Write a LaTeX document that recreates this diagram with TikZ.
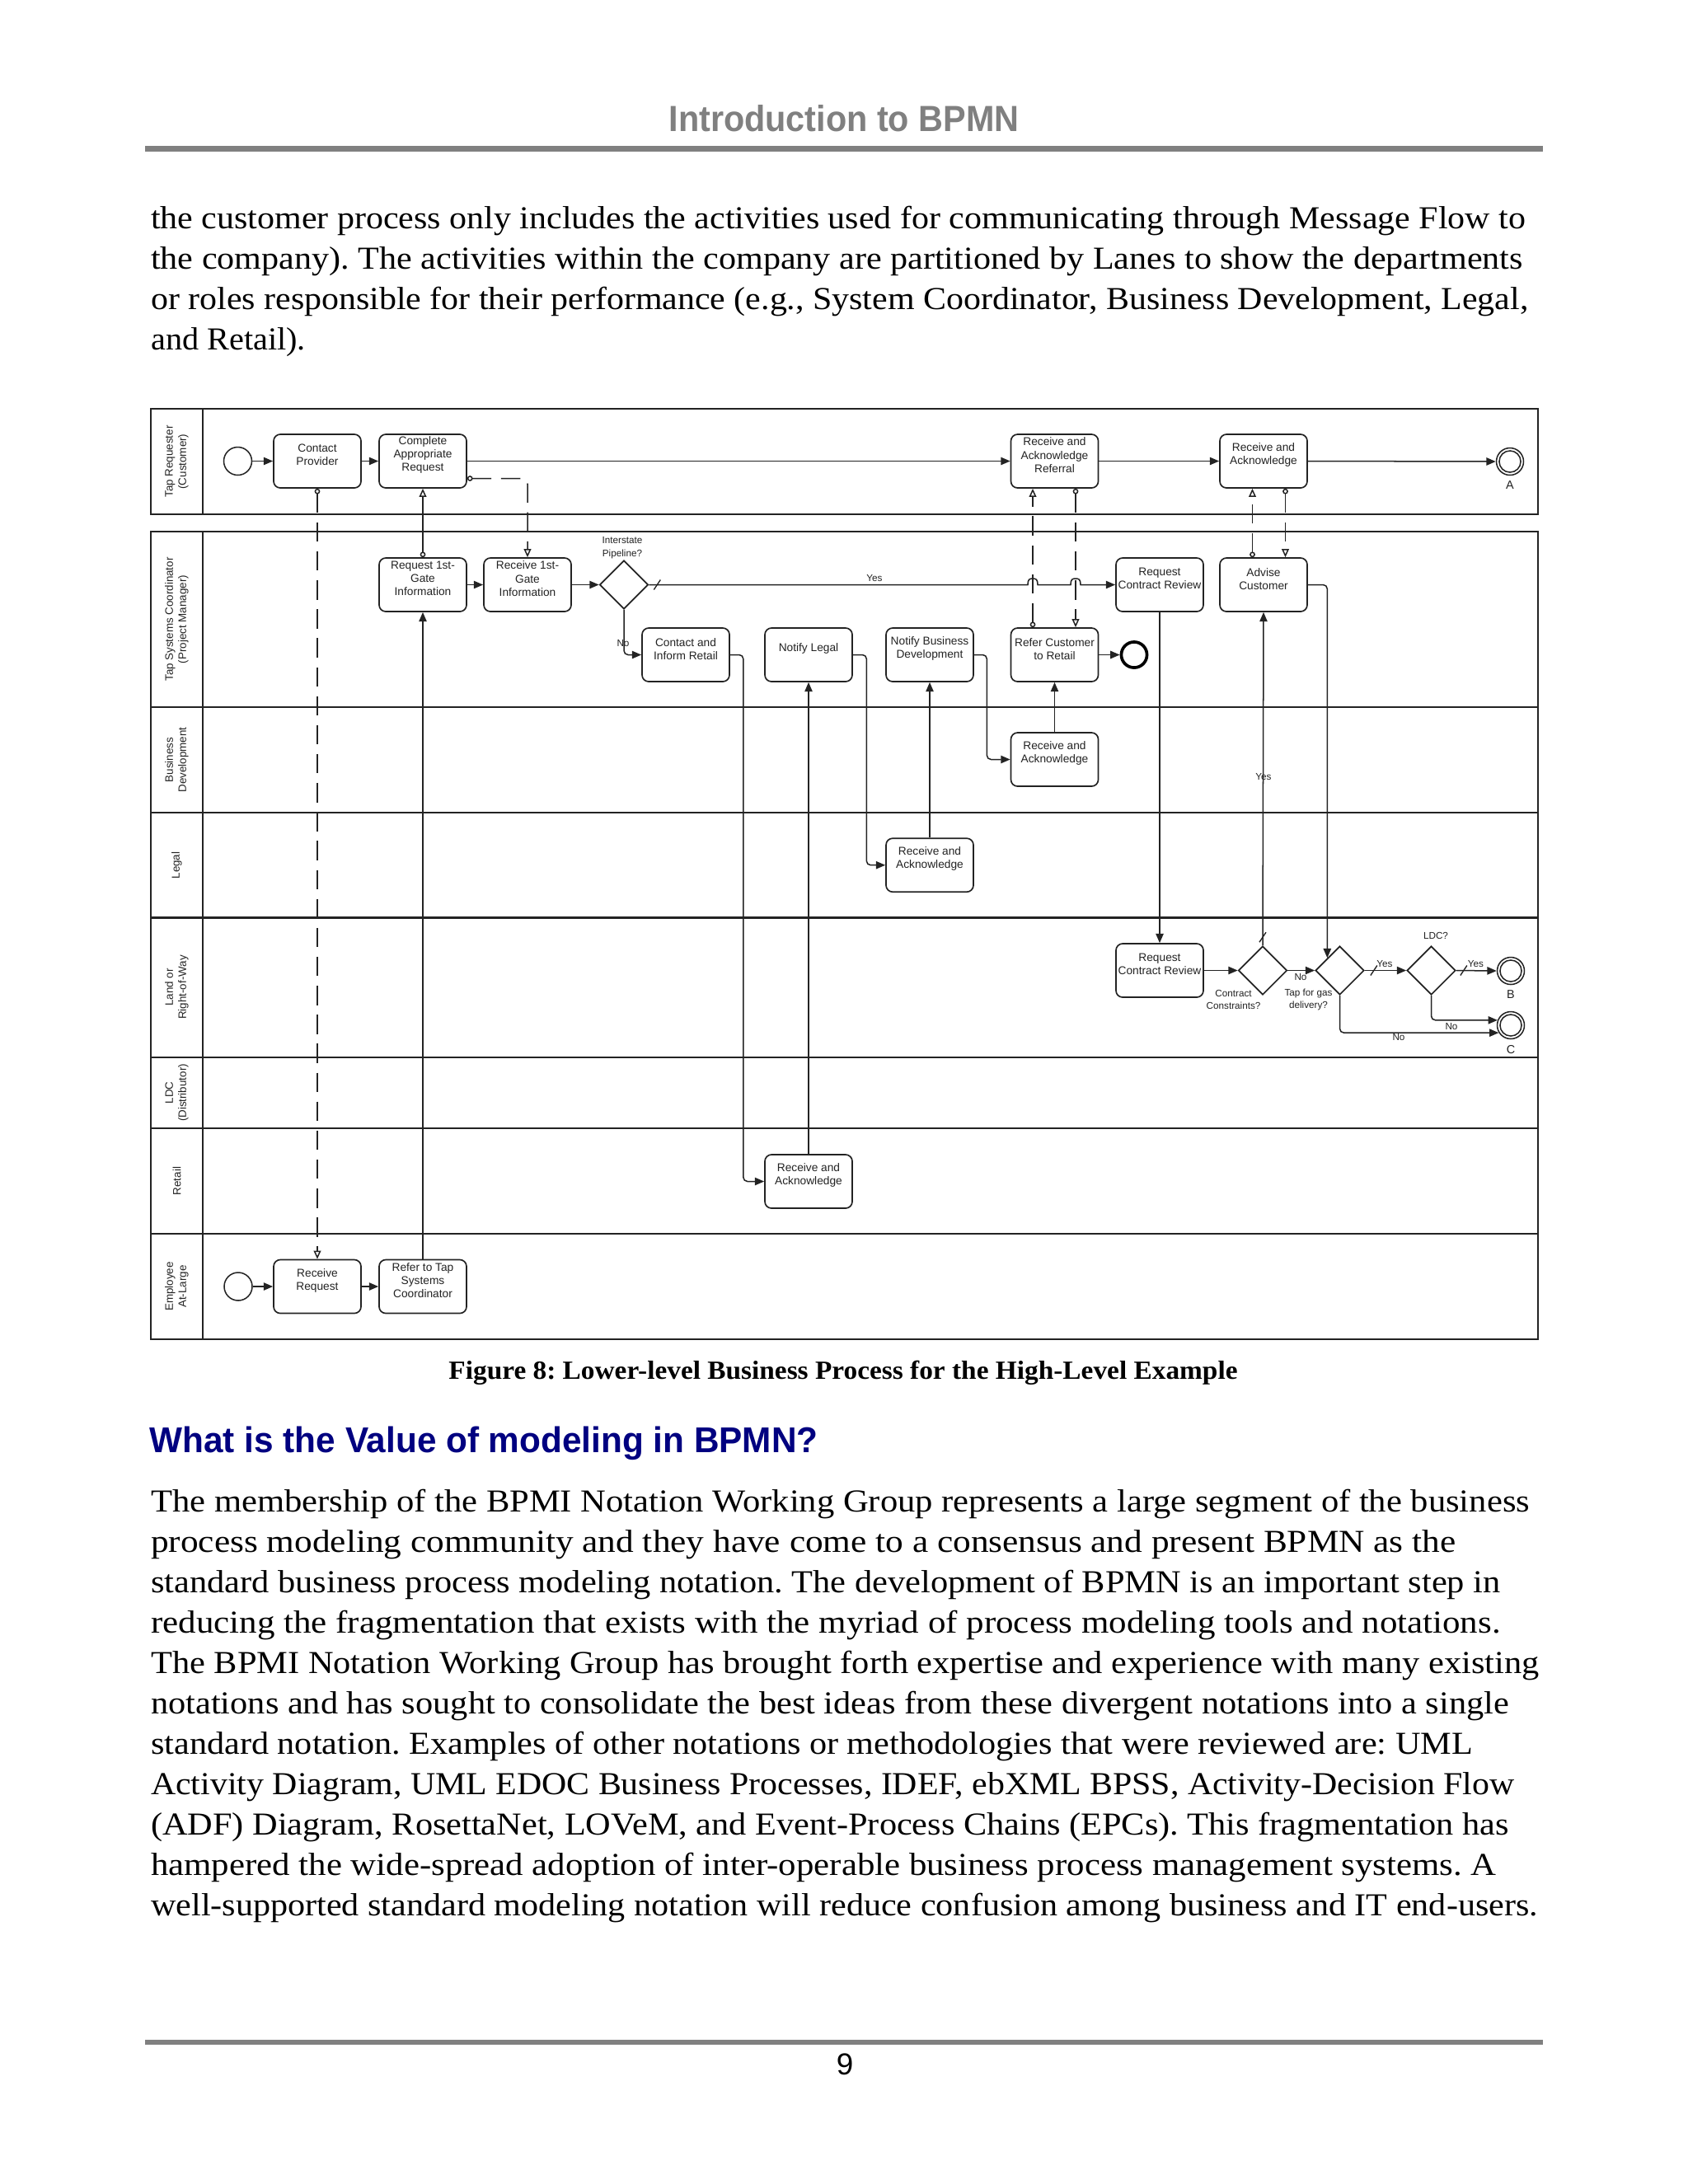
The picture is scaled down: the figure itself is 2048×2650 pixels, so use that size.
\documentclass[tikz,border=0pt]{standalone}
\usepackage{fontspec}
\usepackage{graphicx}
\setmainfont{Liberation Serif}
\newfontfamily\dsans{Liberation Sans}
\usetikzlibrary{arrows.meta,shapes.geometric,calc}
\definecolor{hdrgray}{RGB}{128,128,128}
\definecolor{navyhead}{RGB}{0,0,128}
\definecolor{ink}{RGB}{35,35,35}
\frenchspacing
\newcommand{\bodyfnt}{\fontsize{11.6}{14}\selectfont}
\newcommand{\txtline}[4]{\node[anchor=base west,inner sep=0pt] (#1) at (182.5,#2) {\resizebox{#3pt}{\height}{\bodyfnt #4}};}
\newcommand{\taskbox}[4]{\node[task] (#1) at (#2,#3) {}; \node[ttext] (#1-t) at ([yshift=2.2pt]#1.center) {#4};}
\newcommand{\dflow}[1]{\draw[ink,line width=0.4pt] ($(#1)+(-4,6)$) -- ($(#1)+(4,-6)$);}
\begin{document}
\begin{tikzpicture}[x=0.298828pt,y=-0.298828pt,
  task/.style={draw=ink,line width=0.5pt,rounded corners=2.4pt,minimum width=31.68pt,minimum height=19.42pt,inner sep=0pt},
  ttext/.style={font=\dsans\fontsize{4.1}{4.8}\selectfont,align=center,inner sep=0pt,text=ink},
  gw/.style={draw=ink,line width=0.5pt,diamond,aspect=1,minimum width=17.63pt,minimum height=17.63pt,inner sep=0pt},
  seq/.style={draw=ink,line width=0.45pt,-{Triangle[length=3.4pt,width=2.8pt]},rounded corners=1.5pt},
  msg/.style={draw=ink,line width=0.45pt,dash pattern=on 7pt off 3.5pt,{Circle[open,length=2pt,width=2pt]}-{Triangle[open,length=3pt,width=2.6pt]}},
  lbl/.style={font=\dsans\fontsize{3.5}{4.3}\selectfont,text=ink,inner sep=0pt,align=center},
  lanelbl/.style={font=\dsans\fontsize{4}{4.8}\selectfont,text=ink,inner sep=0pt,align=center,rotate=90},
  pool/.style={draw=ink,line width=0.7pt},
  startev/.style={circle,draw=ink,line width=0.45pt,minimum size=10.16pt,inner sep=0pt},
  endlink/.style={circle,draw=ink,line width=0.45pt,minimum size=9.86pt,inner sep=0pt},
  endthick/.style={circle,draw=black,line width=1.1pt,minimum size=9.3pt,inner sep=0pt},
  letter/.style={font=\dsans\fontsize{4.3}{5}\selectfont,text=ink,inner sep=0pt}
]
\useasboundingbox (0,0) rectangle (2048,2650);
\fill[white] (0,0) rectangle (2048,2650);

% ---------- page header ----------
\node[anchor=base,inner sep=0pt] (hdr) at (1024,159) {\resizebox{127pt}{\height}{\dsans\bfseries\fontsize{13.2}{15}\selectfont\color{hdrgray}Introduction to BPMN}};
\fill[hdrgray] (176,177) rectangle (1872,184);

% ---------- first paragraph ----------
\txtline{p1a}{277}{498.4}{the customer process only includes the activities used for communicating through Message Flow to}
\txtline{p1b}{326}{497.4}{the company). The activities within the company are partitioned by Lanes to show the departments}
\txtline{p1c}{375}{499.4}{or roles responsible for their performance (e.g., System Coordinator, Business Development, Legal,}
\txtline{p1d}{424}{56.1}{and Retail).}

% ---------- pools and lanes ----------
\draw[pool] (183,496) rectangle (1866,624);
\draw[pool] (246,496) -- (246,624);
\draw[pool] (183,645) rectangle (1866,1625);
\draw[pool] (246,645) -- (246,1625);
\foreach \yy in {858,986,1113.5,1283,1369,1497} \draw[pool] (183,\yy) -- (1866,\yy);

\node[lanelbl] (ln1) at (214.5,560) {Tap Requester\\(Customer)};
\node[lanelbl] (ln2) at (214.5,751.5) {Tap Systems Coordinator\\(Project Manager)};
\node[lanelbl] (ln3) at (214.5,922) {Business\\Development};
\node[lanelbl] (ln4) at (214.5,1050) {Legal};
\node[lanelbl] (ln5) at (214.5,1198) {Land or\\Right-of-Way};
\node[lanelbl] (ln6) at (214.5,1326) {LDC\\(Distributor)};
\node[lanelbl] (ln7) at (214.5,1433) {Retail};
\node[lanelbl] (ln8) at (214.5,1561) {Employee\\At-Large};

% ---------- customer pool ----------
\node[startev] (start1) at (288.5,559.5) {};
\taskbox{cp}{385}{559.5}{Contact\\Provider}
\taskbox{car}{513}{559.5}{Complete\\Appropriate\\Request}
\taskbox{rar}{1279.5}{559.5}{Receive and\\Acknowledge\\Referral}
\taskbox{ra}{1533}{559.5}{Receive and\\Acknowledge}
\node[endlink] (endA) at (1832,560) {};
\draw[ink,line width=0.45pt] (endA) circle[radius=3.9pt];
\node[letter] (lA) at (1832,589) {A};

% ---------- coordinator lane ----------
\taskbox{rfg}{513}{709.5}{Request 1st-\\Gate\\Information}
\taskbox{rcvfg}{640}{709.5}{Receive 1st-\\Gate\\Information}
\node[gw] (gw1) at (757,709.5) {};
\node[lbl,font=\dsans\fontsize{3.5}{4.7}\selectfont] (lIP) at (755,665) {Interstate\\Pipeline?};
\taskbox{cir}{832}{794.5}{Contact and\\Inform Retail}
\taskbox{nl}{981}{794.5}{Notify Legal}
\taskbox{nbd}{1128}{794.5}{Notify Business\\Development}
\taskbox{rct}{1279.5}{794.5}{Refer Customer\\to Retail}
\node[endthick] (endT) at (1376,794.5) {};
\taskbox{rcr1}{1407}{709.5}{Request\\Contract Review}
\taskbox{adv}{1533}{709.5}{Advise\\Customer}

% ---------- business development / legal ----------
\taskbox{rab}{1279.5}{921.5}{Receive and\\Acknowledge}
\taskbox{ral}{1128}{1049.7}{Receive and\\Acknowledge}

% ---------- land ----------
\taskbox{rcr2}{1407}{1177.5}{Request\\Contract Review}
\node[gw] (gwc) at (1532,1177.5) {};
\node[gw] (gwt) at (1625.5,1177.5) {};
\node[gw] (gwl) at (1736.5,1177.5) {};
\node[endlink] (endB) at (1833,1178) {};
\draw[ink,line width=0.45pt] (endB) circle[radius=3.9pt];
\node[endlink] (endC) at (1833,1244) {};
\draw[ink,line width=0.45pt] (endC) circle[radius=3.9pt];
\node[letter] (lB) at (1833,1207) {B};
\node[letter] (lC) at (1833,1274) {C};
\node[lbl] (lCC) at (1496.6,1213) {Contract\\Constraints?};
\node[lbl] (lTG) at (1587.5,1213) {Tap for gas\\delivery?};
\node[lbl] (lLDC) at (1742,1135) {LDC?};

% ---------- retail ----------
\taskbox{rar2}{981}{1433.5}{Receive and\\Acknowledge}

% ---------- employee ----------
\node[startev] (start2) at (289,1561) {};
\taskbox{rr}{385}{1561}{Receive\\Request}
\taskbox{rtt}{513}{1561}{Refer to Tap\\Systems\\Coordinator}

% ---------- sequence flows ----------
\draw[seq] (start1.east) -- (cp.west);
\draw[seq] (cp.east) -- (car.west);
\draw[seq] (car.east) -- (rar.west);
\draw[seq] (rar.east) -- (ra.west);
\draw[seq] (ra.east) -- (endA.west);

\draw[seq] (rfg.east) -- (rcvfg.west);
\draw[seq] (rcvfg.east) -- (gw1.west);
\draw[seq,sharp corners] (gw1.east) -- (1247,709.5) .. controls (1247,703) and (1249,702) .. (1253,702) .. controls (1257,702) and (1259,703) .. (1259,709.5) -- (1299,709.5) .. controls (1299,703) and (1301,702) .. (1305,702) .. controls (1309,702) and (1311,703) .. (1311,709.5) -- (rcr1.west);
\coordinate (s1) at ($(gw1.east)+(10,0)$);
\dflow{s1}
\node[lbl] (lYes1) at (1061,701.5) {Yes};
\draw[seq] (gw1.south) |- (cir.west);
\node[lbl] (lNo1) at (756,781) {No};
\draw[seq] (cir.east) -- ++(16,0) |- (rar2.west);
\draw[seq] (rar2.north) -- (nl.south);
\draw[seq] (nl.east) -- ++(16.5,0) |- (ral.west);
\draw[seq] (ral.north) -- (nbd.south);
\draw[seq] (nbd.east) -- ++(15.5,0) |- (rab.west);
\draw[seq] (rab.north) -- (rct.south);
\draw[seq] (rct.east) -- (endT.west);
\draw[seq] (rcr1.south) -- (rcr2.north);
\draw[seq] (rcr2.east) -- (gwc.west);
\draw[seq] (gwc.north) -- (adv.south);
\coordinate (s2) at ($(gwc.north)+(0,-10)$);
\dflow{s2}
\node[lbl] (lYes2) at (1533,943) {Yes};
\draw[seq] (adv.east) -| (gwt.north west);
\draw[seq] (gwc.east) -- (gwt.west);
\node[lbl] (lNo2) at (1578,1186) {No};
\draw[seq] (gwt.east) -- (gwl.west);
\coordinate (s3) at ($(gwt.east)+(11,0)$);
\dflow{s3}
\node[lbl] (lYes3) at (1680,1170) {Yes};
\draw[seq] (gwl.east) -- (endB.west);
\coordinate (s4) at ($(gwl.east)+(9,0)$);
\dflow{s4}
\node[lbl] (lYes4) at (1790.5,1170) {Yes};
\draw[seq] (gwl.south) |- (endC.159);
\node[lbl] (lNo3) at (1761,1246) {No};
\draw[seq] (gwt.south) |- (endC.212);
\node[lbl] (lNo4) at (1697,1259) {No};

\draw[seq] (start2.east) -- (rr.west);
\draw[seq] (rr.east) -- (rtt.west);
\draw[seq] (rtt.north) -- (rfg.south);

% ---------- message flows ----------
\draw[msg] (cp.south) -- (rr.north);
\draw[msg,rounded corners=2pt] ($(car.east)+(0,21)$) -| (rcvfg.north);
\draw[msg,solid] (rfg.north) -- (car.south);
\draw[msg] ($(rct.north)+(-26.5,0)$) -- ($(rar.south)+(-26.5,0)$);
\draw[msg] ($(rar.south)+(25.5,0)$) -- ($(rct.north)+(25.5,0)$);
\draw[msg] ($(adv.north)+(-13.5,0)$) -- ($(ra.south)+(-13.5,0)$);
\draw[msg] ($(ra.south)+(26.5,0)$) -- ($(adv.north)+(26.5,0)$);

% ---------- caption and heading ----------
\node[anchor=base,inner sep=0pt] (cap) at (1023,1673) {\resizebox{286pt}{\height}{\fontsize{9.5}{11}\selectfont\bfseries Figure 8: Lower-level Business Process for the High-Level Example}};
\node[anchor=base west,inner sep=0pt] (h2) at (181,1762) {\resizebox{242.3pt}{\height}{\dsans\bfseries\fontsize{13}{15}\selectfont\color{navyhead}What is the Value of modeling in BPMN?}};

% ---------- second paragraph ----------
\txtline{p2a}{1834}{499.9}{The membership of the BPMI Notation Working Group represents a large segment of the business}
\txtline{p2b}{1883}{473.1}{process modeling community and they have come to a consensus and present BPMN as the}
\txtline{p2c}{1932}{489.3}{standard business process modeling notation. The development of BPMN is an important step in}
\txtline{p2d}{1981}{489.3}{reducing the fragmentation that exists with the myriad of process modeling tools and notations.}
\txtline{p2e}{2030}{503.4}{The BPMI Notation Working Group has brought forth expertise and experience with many existing}
\txtline{p2f}{2079}{492.4}{notations and has sought to consolidate the best ideas from these divergent notations into a single}
\txtline{p2g}{2128}{479.2}{standard notation. Examples of other notations or methodologies that were reviewed are: UML}
\txtline{p2h}{2177}{494.4}{Activity Diagram, UML EDOC Business Processes, IDEF, ebXML BPSS, Activity-Decision Flow}
\txtline{p2i}{2226}{492.4}{(ADF) Diagram, RosettaNet, LOVeM, and Event-Process Chains (EPCs). This fragmentation has}
\txtline{p2j}{2275}{487.8}{hampered the wide-spread adoption of inter-operable business process management systems. A}
\txtline{p2k}{2324}{502.9}{well-supported standard modeling notation will reduce confusion among business and IT end-users.}

% ---------- footer ----------
\fill[hdrgray] (176,2475) rectangle (1872,2481);
\node[anchor=base,inner sep=0pt] (pg) at (1025,2517) {\dsans\fontsize{11}{13}\selectfont 9};
\end{tikzpicture}
\end{document}
